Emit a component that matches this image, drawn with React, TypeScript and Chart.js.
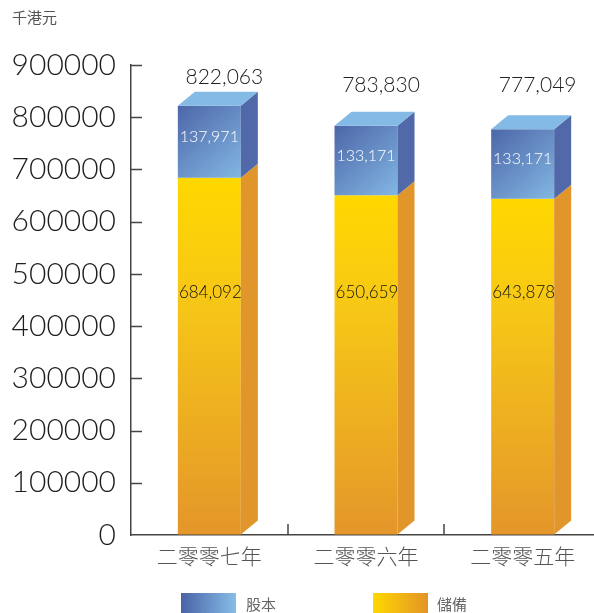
import React, { useEffect, useRef } from "react";
import { Chart, registerables } from "chart.js";

Chart.register(...registerables);

const unitLabel = "千港元";
const categories = ["二零零七年", "二零零六年", "二零零五年"];
const seriesNames = ["股本", "儲備"];
const shareCapital = [137971, 133171, 133171];
const reserves = [684092, 650659, 643878];
const totals = [822063, 783830, 777049];
const yMin = 0;
const yMax = 900000;
const yStep = 100000;

const NUM_FONT = "Lato, 'Open Sans', sans-serif";
const CJK_FONT = "'Noto Sans CJK TC', 'Noto Sans CJK SC', sans-serif";

const fmt = (v: number) => v.toLocaleString("en-US");

const DX = 17;
const DY = 14;

function poly(ctx: CanvasRenderingContext2D, pts: number[][], fill: string | CanvasGradient) {
  ctx.beginPath();
  ctx.moveTo(pts[0][0], pts[0][1]);
  for (let i = 1; i < pts.length; i++) ctx.lineTo(pts[i][0], pts[i][1]);
  ctx.closePath();
  ctx.fillStyle = fill;
  ctx.fill();
}

const barPlugin = {
  id: "bars3d",
  afterDatasetsDraw(chart: any) {
    const ctx: CanvasRenderingContext2D = chart.ctx;
    const yScale = chart.scales.y;
    const mBottom = chart.getDatasetMeta(0);
    const mTop = chart.getDatasetMeta(1);
    ctx.save();
    for (let i = 0; i < categories.length; i++) {
      const eb: any = mBottom.data[i];
      const et: any = mTop.data[i];
      const L = eb.x - eb.width / 2;
      const R = eb.x + eb.width / 2;
      const yBase = eb.base;
      const yMid = eb.y;
      const yTop = et.y;

      // yellow front
      const gy = ctx.createLinearGradient(0, yMid, 0, yBase);
      gy.addColorStop(0, "#ffd800");
      gy.addColorStop(0.35, "#f6c617");
      gy.addColorStop(1, "#e4962a");
      poly(ctx, [[L, yMid], [R, yMid], [R, yBase], [L, yBase]], gy);
      // yellow side
      poly(ctx, [[R, yBase], [R + DX, yBase - DY], [R + DX, yMid - DY], [R, yMid]], "#e0962b");

      // blue front
      const gb = ctx.createLinearGradient(L, yTop, R, yMid);
      gb.addColorStop(0, "#4d66a8");
      gb.addColorStop(1, "#82b7e3");
      poly(ctx, [[L, yTop], [R, yTop], [R, yMid], [L, yMid]], gb);
      // blue side
      poly(ctx, [[R, yMid], [R + DX, yMid - DY], [R + DX, yTop - DY], [R, yTop]], "#5169a9");
      // blue top
      poly(ctx, [[L, yTop], [R, yTop], [R + DX, yTop - DY], [L + DX, yTop - DY]], "#84bae6");

      // labels
      ctx.textAlign = "center";
      ctx.textBaseline = "middle";
      ctx.font = `300 16px ${NUM_FONT}`;
      ctx.fillStyle = "#ffffff";
      ctx.fillText(fmt(shareCapital[i]), eb.x, (yTop + yMid) / 2 - 5);
      ctx.font = `300 17px ${NUM_FONT}`;
      ctx.fillStyle = "#111111";
      ctx.fillText(fmt(reserves[i]), eb.x + 1, yScale.getPixelForValue(465000));
      ctx.font = `300 21px ${NUM_FONT}`;
      ctx.fillStyle = "#222222";
      const ty = Math.min(yScale.getPixelForValue(totals[i]) - 28, yScale.getPixelForValue(862000));
      ctx.fillText(fmt(totals[i]), eb.x + 15, ty);
    }
    ctx.restore();
  },
  afterDraw(chart: any) {
    const ctx: CanvasRenderingContext2D = chart.ctx;
    const area = chart.chartArea;
    const yScale = chart.scales.y;
    const xScale = chart.scales.x;
    ctx.save();
    ctx.strokeStyle = "#444";
    ctx.lineWidth = 1.5;
    // inward y tick marks
    for (let v = yMin + yStep; v <= yMax; v += yStep) {
      const y = Math.round(yScale.getPixelForValue(v)) + 0.5;
      ctx.beginPath();
      ctx.moveTo(area.left, y);
      ctx.lineTo(area.left + 11, y);
      ctx.stroke();
    }
    // category separators
    for (let i = 0; i < categories.length - 1; i++) {
      const x = Math.round((xScale.getPixelForValue(i) + xScale.getPixelForValue(i + 1)) / 2);
      ctx.beginPath();
      ctx.moveTo(x, area.bottom);
      ctx.lineTo(x, area.bottom - 11);
      ctx.stroke();
    }
    // unit label
    ctx.fillStyle = "#555";
    ctx.font = `400 15px ${CJK_FONT}`;
    ctx.textAlign = "left";
    ctx.textBaseline = "middle";
    ctx.fillText(unitLabel, 12, 17);

    // legend
    const legendY = 593;
    const boxW = 55;
    const boxH = 22;
    const g1 = ctx.createLinearGradient(181, 0, 181 + boxW, 0);
    g1.addColorStop(0, "#4a63a7");
    g1.addColorStop(1, "#86bde7");
    ctx.fillStyle = g1;
    ctx.fillRect(181, legendY, boxW, boxH);
    const g2 = ctx.createLinearGradient(373, 0, 373 + boxW, 0);
    g2.addColorStop(0, "#ffd800");
    g2.addColorStop(1, "#e39428");
    ctx.fillStyle = g2;
    ctx.fillRect(373, legendY, boxW, boxH);
    ctx.fillStyle = "#666";
    ctx.font = `400 15px ${CJK_FONT}`;
    ctx.textAlign = "left";
    ctx.fillText(seriesNames[0], 246, 604);
    ctx.fillText(seriesNames[1], 437, 604);
    ctx.restore();
  },
};

export default function App() {
  const ref = useRef<HTMLCanvasElement | null>(null);
  useEffect(() => {
    if (!ref.current) return;
    const chart = new Chart(ref.current, {
      type: "bar",
      data: {
        labels: categories,
        datasets: [
          { label: seriesNames[1], data: reserves, backgroundColor: "rgba(0,0,0,0)", barThickness: 63 },
          { label: seriesNames[0], data: shareCapital, backgroundColor: "rgba(0,0,0,0)", barThickness: 63 },
        ],
      },
      options: {
        animation: false,
        responsive: true,
        maintainAspectRatio: false,
        layout: { padding: { top: 65, right: 1, bottom: 0, left: 0 } },
        plugins: { legend: { display: false }, tooltip: { enabled: false } },
        scales: {
          x: {
            stacked: true,
            offset: true,
            grid: { display: true, drawOnChartArea: false, drawTicks: false },
            border: { display: true, color: "#444", width: 1.5 },
            ticks: { color: "#555", padding: 8, font: { family: CJK_FONT, size: 21, weight: "300" } },
            afterFit: (s: any) => { s.height = 78; },
          },
          y: {
            stacked: true,
            min: yMin,
            max: yMax,
            grid: { display: true, drawOnChartArea: false, drawTicks: false },
            border: { display: true, color: "#444", width: 1.5 },
            ticks: {
              stepSize: yStep,
              color: "#1e1e1e",
              padding: 15,
              font: { family: NUM_FONT, size: 30, weight: "300" },
              callback: (v: any) => String(v),
            },
            afterFit: (s: any) => { s.width = 131; },
          },
        },
      },
      plugins: [barPlugin],
    });
    return () => chart.destroy();
  }, []);
  return (
    <div style={{ position: "fixed", left: 0, top: 0, width: 594, height: 613, overflow: "hidden", background: "#fff" }}>
      <div style={{ position: "relative", width: 602, height: 613 }}>
        <canvas ref={ref} />
      </div>
    </div>
  );
}
